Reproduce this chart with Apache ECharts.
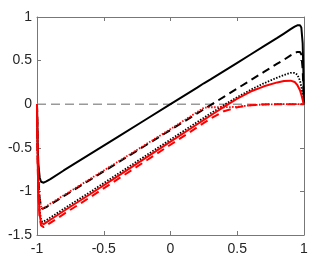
<!DOCTYPE html>
<html>
<head>
<meta charset="utf-8">
<script src="https://cdn.jsdelivr.net/npm/echarts@6/dist/echarts.min.js"></script>
<style>html,body{margin:0;padding:0;background:#fff}#c{width:327px;height:262px}</style>
</head>
<body>
<div id="c"></div>
<script>
var xs = [-1, -0.995, -0.99, -0.98, -0.97, -0.96, -0.95, -0.93, -0.9, -0.8, -0.6, -0.4, -0.2, 0, 0.2, 0.25, 0.3, 0.4, 0.5, 0.6, 0.7, 0.8, 0.85, 0.9, 0.93, 0.95, 0.97, 0.98, 0.99, 0.995, 1];
var blackSolid = [0, -0.45, -0.68, -0.84, -0.89, -0.905, -0.9, -0.885, -0.86, -0.76, -0.57, -0.38, -0.19, 0, 0.19, 0.24, 0.285, 0.38, 0.475, 0.57, 0.665, 0.76, 0.81, 0.86, 0.89, 0.905, 0.905, 0.88, 0.7, 0.4, 0];
var blackDashed = [0, -0.55, -0.85, -1.08, -1.17, -1.2, -1.195, -1.18, -1.15, -1.055, -0.865, -0.675, -0.485, -0.295, -0.105, -0.058, -0.01, 0.085, 0.18, 0.275, 0.37, 0.465, 0.51, 0.56, 0.585, 0.6, 0.6, 0.57, 0.4, 0.2, 0];
var blackDotted = [0, -0.6, -0.95, -1.22, -1.32, -1.35, -1.35, -1.33, -1.3, -1.2, -1.005, -0.805, -0.605, -0.405, -0.205, -0.155, -0.105, -0.01, 0.08, 0.165, 0.24, 0.305, 0.335, 0.36, 0.36, 0.34, 0.27, 0.2, 0.1, 0.05, 0];
var redSolid = [0, -0.65, -1.0, -1.27, -1.36, -1.38, -1.375, -1.355, -1.325, -1.225, -1.03, -0.83, -0.63, -0.43, -0.23, -0.18, -0.13, -0.03, 0.065, 0.145, 0.205, 0.25, 0.265, 0.27, 0.255, 0.22, 0.16, 0.11, 0.05, 0.02, 0];
var redDashed = [0, -0.65, -1.02, -1.3, -1.39, -1.41, -1.41, -1.39, -1.36, -1.26, -1.065, -0.865, -0.665, -0.465, -0.265, -0.215, -0.165, -0.08, -0.035, -0.012, -0.003, 0, 0, 0, 0, 0, 0, 0, 0, 0, 0];
var redDotted = [0, -0.55, -0.85, -1.08, -1.17, -1.2, -1.19, -1.17, -1.14, -1.045, -0.855, -0.665, -0.475, -0.285, -0.09, -0.04, -0.035, -0.035, -0.03, -0.012, -0.003, 0, 0, 0, 0, 0, 0, 0, 0, 0, 0];
var zeroLineX = [-1, 1];
var zeroLineY = [0, 0];
var xTicks = [-1, -0.5, 0, 0.5, 1];
var yTicks = [-1.5, -1, -0.5, 0, 0.5, 1];

function pairs(x, y) { return x.map(function (v, i) { return [v, y[i]]; }); }

var axisColor = '#777';
var font = {color: '#262626', fontSize: 14, fontFamily: "'Liberation Sans', Arial, sans-serif"};
function mkX(pos, showLabel) {
  return {type: 'value', position: pos, min: xTicks[0], max: xTicks[xTicks.length - 1], interval: 0.5,
    axisLine: {show: true, onZero: false, lineStyle: {color: axisColor, width: 1}},
    axisTick: {show: true, inside: true, length: 4, lineStyle: {color: axisColor}},
    axisLabel: Object.assign({show: showLabel, margin: 7}, font),
    splitLine: {show: false}};
}
function mkY(pos, showLabel) {
  return {type: 'value', position: pos, min: yTicks[0], max: yTicks[yTicks.length - 1], interval: 0.5,
    axisLine: {show: true, onZero: false, lineStyle: {color: axisColor, width: 1}},
    axisTick: {show: true, inside: true, length: 4, lineStyle: {color: axisColor}},
    axisLabel: Object.assign({show: showLabel, margin: 5}, font),
    splitLine: {show: false}};
}
function line(y, color, type, width) {
  return {type: 'line', data: pairs(xs, y), showSymbol: false, symbol: 'none', smooth: false,
    lineStyle: {color: color, type: type, width: width}, animation: false, z: 3};
}
var chart = echarts.init(document.getElementById('c'), null, {renderer: 'canvas'});
chart.setOption({
  animation: false,
  grid: {left: 37, right: 23, top: 17, bottom: 27},
  xAxis: [mkX('bottom', true), mkX('top', false)],
  yAxis: [mkY('left', true), mkY('right', false)],
  series: [
    {type: 'line', data: pairs(zeroLineX, zeroLineY), showSymbol: false, symbol: 'none',
      lineStyle: {color: '#999', type: [9, 5], width: 1.5}, z: 2},
    line(blackSolid, '#000', 'solid', 2),
    line(blackDashed, '#000', [8, 5], 2),
    line(blackDotted, '#000', [1.5, 1.5], 1.8),
    line(redSolid, '#ff0000', 'solid', 2),
    line(redDashed, '#ff0000', [8, 5], 2),
    line(redDotted, '#ff0000', [1.5, 1.5], 1.8)
  ]
});
</script>
</body>
</html>
